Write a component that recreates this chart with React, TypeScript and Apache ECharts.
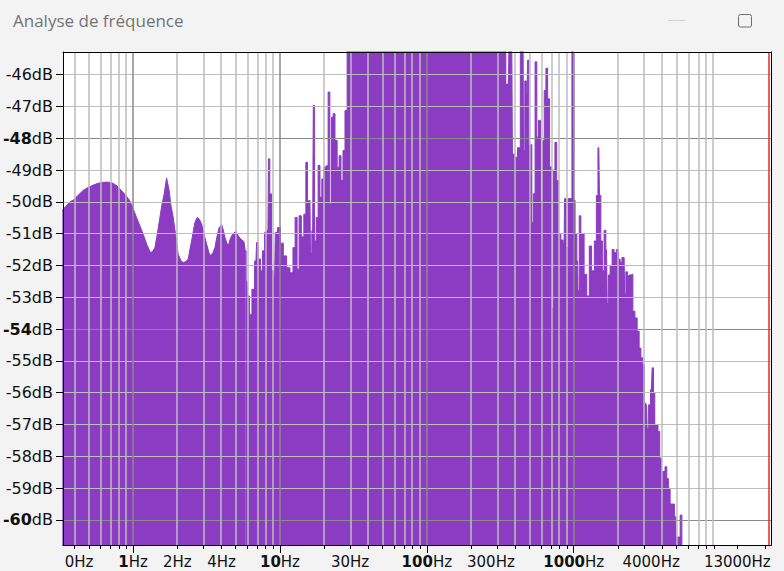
import React, { useEffect, useRef } from 'react';
import * as echarts from 'echarts';

// ---- data (frequency in Hz, level in dB) ----
// smooth low-frequency humps
const lowFreqHz = [
  0.33, 0.348, 0.371, 0.391, 0.421, 0.455, 0.492, 0.532, 0.576, 0.613, 0.66, 0.695, 0.732, 0.776, 0.835, 0.893, 0.951, 0.997,
  1.056, 1.112, 1.172, 1.242, 1.316, 1.364, 1.408, 1.464, 1.523, 1.571, 1.629, 1.691, 1.726, 1.762, 1.809, 1.876, 1.957,
  2.029, 2.117, 2.194, 2.289, 2.374, 2.437, 2.503, 2.575, 2.636, 2.733, 2.829, 2.929, 3.036, 3.168, 3.284, 3.373, 3.497,
  3.608, 3.723, 3.858, 4.009, 4.123, 4.221, 4.355, 4.444, 4.564, 4.688, 4.86, 5.015, 5.175, 5.34, 5.51, 5.686, 5.802,
];
const lowDb = [
  -50.25, -50.15, -50.0, -49.95, -49.8, -49.65, -49.55, -49.48, -49.42, -49.39, -49.38, -49.39, -49.42, -49.5, -49.65, -49.8, -49.97, -50.2,
  -50.49, -50.75, -51.02, -51.35, -51.6, -51.55, -51.44, -51.0, -50.49, -50.1, -49.75, -49.25, -49.45, -49.65, -50.1, -50.49, -51.1,
  -51.65, -51.85, -51.91, -51.88, -51.8, -51.5, -51.23, -50.9, -50.65, -50.49, -50.55, -50.7, -51.0, -51.33, -51.6, -51.7, -51.6,
  -51.44, -51.1, -50.81, -50.72, -50.9, -51.12, -51.3, -51.39, -51.2, -51.07, -50.98, -50.93, -51.05, -51.14, -51.2, -51.25, -51.54,
];
// spiky part of the spectrum, drawn as bars (steps)
const highFreqHz = [
  5.802, 5.959, 6.082, 6.315, 6.578, 6.863, 7.005, 7.228, 7.505, 7.695, 8.028, 8.285, 8.416, 8.642, 8.862, 9.203, 9.393, 9.891,
  10.27, 10.82, 11.39, 12.02, 12.52, 12.85, 13.32, 13.69, 14.28, 14.81, 15.21, 15.59, 16.01, 16.26, 16.7, 17.04, 17.39,
  17.95, 18.44, 19.02, 19.54, 20.25, 21.0, 21.57, 22.15, 22.72, 23.33, 24.07, 24.96, 25.63, 26.45, 27.29, 28.16, 29.19,
  35.08, 48.0, 65.7, 89.9, 123, 168.4, 230.4, 315.2, 341, 349.1, 359.2, 366, 378.8, 386.6, 405.2, 424.8, 441.7, 452.2,
  459.3, 470.3, 481.5, 489.1, 500.7, 512.6, 524.8, 537.3, 554.5, 567.7, 583.9, 606.3, 621.7, 638.5, 655.7, 674.5, 696,
  718.3, 735.4, 755.3, 776.9, 801.6, 833.7, 860.3, 873.9, 901.8, 930.5, 960.1, 986, 1006, 1038, 1063, 1076, 1106, 1132,
  1159, 1196, 1260, 1294, 1356, 1410, 1443, 1483, 1513, 1549, 1586, 1636, 1675, 1707, 1742, 1798, 1855, 1914, 1992,
  2039, 2103, 2160, 2205, 2240, 2293, 2348, 2423, 2500, 2559, 2662, 2747, 2835, 2901, 2994, 3065, 3138, 3187, 3289,
  3383, 3458, 3529, 3602, 3699, 3799, 3907, 4000, 4128, 4247, 4361, 4465, 4608, 4792, 4906, 5023, 5224, 5390, 5518,
];
const highDb = [
  -51.54, -52.5, -52.96, -53.54, -52.75, -51.86, -51.28, -51.8, -52.17, -51.54, -50.96, -50.9, -48.65, -49.75, -52.17, -52.33, -50.96, -50.81,
  -51.3, -51.7, -52.07, -52.23, -51.44, -50.49, -52.12, -50.44, -51.1, -50.39, -48.76, -49.97, -49.95, -51.6, -50.91, -46.97, -51.23,
  -50.49, -48.86, -49.86, -49.28, -48.91, -48.87, -46.55, -50.07, -47.34, -47.23, -48.07, -48.91, -48.55, -49.33, -48.39, -47.13, -45.0,
  -45.0, -45.0, -45.0, -45.0, -45.0, -45.0, -45.0, -45.0, -45.0, -46.3, -46.3, -45.0, -45.0, -48.5, -48.6, -48.3, -45.0, -45.0,
  -48.39, -46.2, -46.6, -45.55, -48.23, -48.2, -50.65, -49.75, -45.6, -47.97, -47.44, -50.0, -48.07, -46.5, -45.8, -46.76, -48.9,
  -53.33, -49.0, -48.13, -49.33, -51.0, -51.2, -51.3, -49.9, -51.44, -49.9, -49.9, -45.0, -49.95, -51.0, -51.86, -52.8, -50.44, -51.0,
  -51.0, -52.28, -52.96, -51.39, -52.17, -51.23, -49.8, -48.3, -49.8, -51.23, -52.17, -50.9, -51.5, -53.2, -52.3, -52.0, -51.5, -51.6, -51.5,
  -51.8, -51.9, -51.75, -51.75, -52.9, -52.2, -52.33, -52.3, -52.28, -53.44, -53.65, -54.07, -54.6, -54.9, -55.12, -56.33, -56.4, -57.12, -56.38,
  -55.9, -55.22, -56.0, -57.0, -57.0, -57.22, -58.06, -58.48, -58.48, -58.33, -58.7, -59.0, -59.5, -59.5, -59.9, -60.54, -60.54, -59.85, -61.5,
];

// axis ticks / labels
const dbTicks = [-60, -59, -58, -57, -56, -55, -54, -53, -52, -51, -50, -49, -48, -47, -46];
const dbBold = [-60, -54, -48];
const majorHz = [1, 10, 100, 1000];
const minorHz = [
  0.4, 0.5, 0.6, 0.7, 0.8, 0.9,
  2, 3, 4, 5, 6, 7, 8, 9,
  20, 30, 40, 50, 60, 70, 80, 90,
  200, 300, 400, 500, 600, 700, 800, 900,
  2000, 3000, 4000, 5000, 6000, 7000, 8000, 9000,
];
const extraTickHz = [13000, 20000];
const labelHz = [0.4, 1, 2, 4, 10, 30, 100, 300, 1000, 4000, 13000];
const labelNum = ['0', '1', '2', '4', '10', '30', '100', '300', '1000', '4000', '13000'];
const cursorHz = 21440;

const freqMin = 1 / 3;
const freqMax = 22050;
const dbMin = -60.79;
const dbMax = -45.29;

// ---- styling / layout ----
const PURPLE = '#8b3cc2';
const GRID_MINOR = '#bdbdbd';
const GRID_MAJOR = '#8a8a8a';
const FONT = 'DejaVu Sans';
const FS = 16;
const FSX = 15;
const TEXT = '#111';
const LABEL_NUDGE = [4.5, 0, 0, 0, 0, 0, 0, -6, 0, -11, 0];

const lg = (v: number) => Math.log10(v);
const xMin = lg(freqMin);
const xMax = lg(freqMax);

function buildOption() {
  const lowData = lowFreqHz.map((f, i) => [lg(f), lowDb[i]]);
  const highData = highFreqHz.map((f, i) => [lg(f), highDb[i]]);

  const gridLines: any[] = [
    ...dbTicks.map((d) => ({ yAxis: d, lineStyle: { color: dbBold.includes(d) ? GRID_MAJOR : GRID_MINOR, width: 1 } })),
    ...minorHz.map((h) => ({ xAxis: lg(h), lineStyle: { color: GRID_MINOR, width: 1.5 } })),
    ...majorHz.map((h) => ({ xAxis: lg(h), lineStyle: { color: GRID_MAJOR, width: 1.5 } })),
    { xAxis: lg(cursorHz), lineStyle: { color: '#f2261b', width: 1.5 } },
  ];

  const labelRich: any = {};
  LABEL_NUDGE.forEach((nudge, i) => {
    const bold = majorHz.includes(labelHz[i]);
    labelRich['p' + i] = {
      fontFamily: FONT, fontSize: FSX, lineHeight: 15, color: TEXT, fontWeight: bold ? 'bold' : 'normal',
      padding: nudge > 0 ? [0, 0, 0, nudge * 2] : 0,
    };
    labelRich['h' + i] = {
      fontFamily: FONT, fontSize: FSX, lineHeight: 15, color: TEXT,
      padding: nudge < 0 ? [0, -nudge * 2, 0, 0] : 0,
    };
  });

  const xLabelFormatter = (v: number) => {
    const i = labelHz.findIndex((h) => Math.abs(lg(h) - v) < 1e-6);
    if (i < 0) return '';
    return `{p${i}|${labelNum[i]}}{h${i}|Hz}`;
  };

  const yLabelFormatter = (v: number) => {
    if (dbBold.includes(v)) return `{b|${v}}{n|dB}`;
    return `{n|${v}dB}`;
  };

  const baseAxis = {
    type: 'value',
    min: xMin,
    max: xMax,
    z: 10,
    splitLine: { show: false },
    axisLine: { show: true, onZero: false, lineStyle: { color: '#000', width: 1 } },
  };

  const areaSeries = (name: string, data: number[][], step: any) => ({
    type: 'line',
    name,
    xAxisIndex: 0,
    yAxisIndex: 0,
    data,
    step,
    showSymbol: false,
    symbol: 'none',
    clip: true,
    silent: true,
    lineStyle: { color: PURPLE, width: 1 },
    areaStyle: { color: PURPLE, opacity: 1, origin: 'start' },
  });

  return {
    animation: false,
    backgroundColor: '#f3f3f3',
    grid: {
      left: 63, top: 52, width: 708, height: 493,
      containLabel: false,
      outerBoundsMode: 'none',
      show: true, backgroundColor: '#ffffff', borderWidth: 0,
    },
    xAxis: [
      {
        ...baseAxis,
        position: 'bottom',
        axisTick: {
          show: true, length: 8, customValues: majorHz.map(lg),
          lineStyle: { color: '#000' },
        },
        axisLabel: {
          show: true, margin: 9, customValues: labelHz.map(lg),
          formatter: xLabelFormatter, rich: labelRich,
        },
      },
      {
        ...baseAxis,
        position: 'bottom',
        axisTick: {
          show: true, length: 4, customValues: [...minorHz, ...extraTickHz].map(lg),
          lineStyle: { color: '#000' },
        },
        axisLabel: { show: false },
      },
      {
        ...baseAxis,
        position: 'top',
        axisTick: { show: false },
        axisLabel: { show: false },
      },
    ],
    yAxis: [
      {
        type: 'value', position: 'left', min: dbMin, max: dbMax, z: 10,
        splitLine: { show: false },
        axisLine: { show: true, onZero: false, lineStyle: { color: '#000' } },
        axisTick: { show: true, length: 7, customValues: dbTicks, lineStyle: { color: '#000' } },
        axisLabel: {
          show: true, margin: 10, customValues: dbTicks,
          formatter: yLabelFormatter,
          rich: {
            b: { fontFamily: FONT, fontSize: FS, fontWeight: 'bold', color: TEXT },
            n: { fontFamily: FONT, fontSize: FS, color: TEXT },
          },
        },
      },
      {
        type: 'value', position: 'right', min: dbMin, max: dbMax, z: 10,
        splitLine: { show: false },
        axisLine: { show: true, onZero: false, lineStyle: { color: '#000' } },
        axisTick: { show: false },
        axisLabel: { show: false },
      },
    ],
    series: [
      areaSeries('Spectre (bas)', lowData, false),
      {
        ...areaSeries('Spectre', highData, 'middle'),
        markLine: {
          silent: true,
          symbol: ['none', 'none'],
          label: { show: false },
          emphasis: { disabled: true },
          lineStyle: { type: 'solid', width: 1 },
          animation: false,
          data: gridLines,
        },
      },
    ],
    graphic: [
      {
        type: 'text', x: 13, y: 20.5, silent: true,
        style: {
          text: 'Analyse de fréquence', fill: '#737373',
          fontSize: 17, fontFamily: 'Open Sans', verticalAlign: 'middle',
        },
      },
      {
        type: 'line', silent: true,
        shape: { x1: 668, y1: 20.5, x2: 685, y2: 20.5 },
        style: { stroke: '#d2d2d2', lineWidth: 1 },
      },
      {
        type: 'rect', silent: true,
        shape: { x: 738.5, y: 14.5, width: 13, height: 12.5, r: 2 },
        style: { stroke: '#6f6f6f', fill: 'none', lineWidth: 1 },
      },
    ],
  };
}

export default function App() {
  const ref = useRef<HTMLDivElement>(null);
  useEffect(() => {
    if (!ref.current) return;
    const chart = echarts.init(ref.current, null, { renderer: 'svg' });
    chart.setOption(buildOption() as any);
    return () => chart.dispose();
  }, []);
  return (
    <div
      ref={ref}
      style={{ position: 'absolute', left: 0, top: 0, width: 784, height: 571 }}
    />
  );
}
